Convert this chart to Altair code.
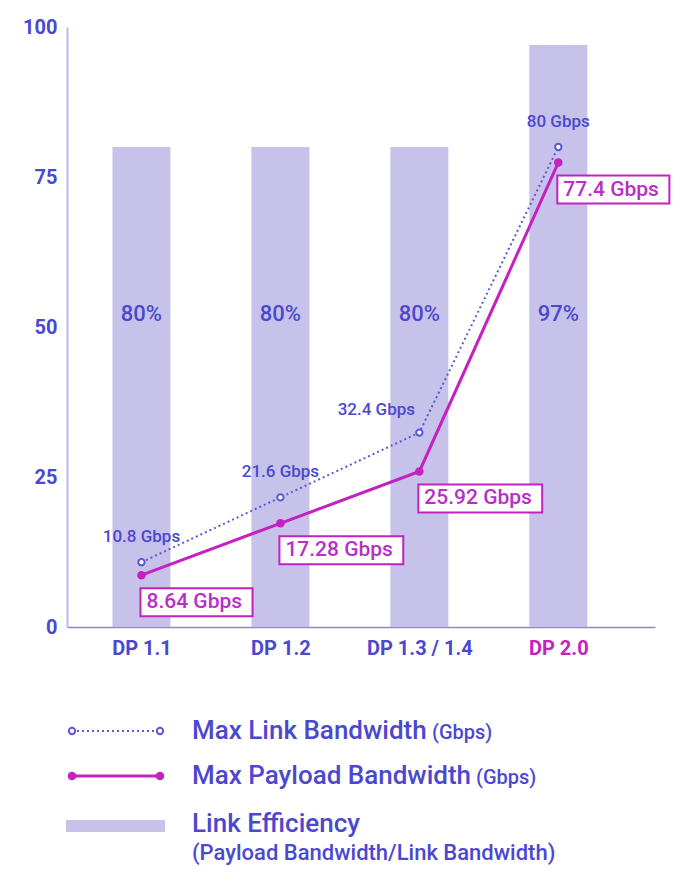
import altair as alt
import pandas as pd

# ---------------- data ----------------
versions = ["DP 1.1", "DP 1.2", "DP 1.3 / 1.4", "DP 2.0"]
link_bw = [10.8, 21.6, 32.4, 80.0]
payload_bw = [8.64, 17.28, 25.92, 77.4]
efficiency = [80, 80, 80, 97]
link_labels = ["10.8 Gbps", "21.6 Gbps", "32.4 Gbps", "80 Gbps"]
payload_labels = ["8.64 Gbps", "17.28 Gbps", "25.92 Gbps", "77.4 Gbps"]
eff_labels = ["80%", "80%", "80%", "97%"]
y_ticks = [0, 25, 50, 75, 100]
legend_names = ["Max Link Bandwidth", "Max Payload Bandwidth", "Link Efficiency"]
legend_units = ["(Gbps)", "(Gbps)", "(Payload Bandwidth/Link Bandwidth)"]

# ---------------- styles ----------------
FONT = "Roboto"
BLUE = "#4b48d0"
LINK_BLUE = "#5b58d8"
MAGENTA = "#c421c0"
BOX_TEXT = "#b72fc6"
LAVENDER = "#c7c2ea"
W, H = 588, 600
XDOM = [-0.5, 3.66]
PX = W / (XDOM[1] - XDOM[0])

df = pd.DataFrame({
    "pos": list(range(len(versions))),
    "version": versions,
    "link": link_bw,
    "payload": payload_bw,
    "eff": efficiency,
    "link_label": link_labels,
    "payload_label": payload_labels,
    "eff_label": eff_labels,
})

label_expr = "[" + ",".join("'%s'" % v for v in versions) + "][datum.value]"
last = len(versions) - 1

X = alt.X(
    "pos:Q",
    scale=alt.Scale(domain=XDOM, nice=False, zero=False),
    axis=alt.Axis(
        values=list(range(len(versions))), labelExpr=label_expr, title=None,
        ticks=False, grid=False, domainColor="#8a86e0", domainWidth=1.5,
        labelFont=FONT, labelFontSize=20, labelFontWeight="bold",
        labelColor=alt.ExprRef("datum.value == %d ? '%s' : '%s'" % (last, MAGENTA, BLUE)),
        labelPadding=11, labelFlush=False,
    ),
)


def Y(field):
    return alt.Y(
        field,
        scale=alt.Scale(domain=[0, 100], nice=False),
        axis=alt.Axis(
            values=y_ticks, title=None, ticks=False, grid=False,
            domainColor="#bcb8ec", domainWidth=2,
            labelFont=FONT, labelFontSize=20, labelFontWeight="bold",
            labelColor=BLUE, labelPadding=10,
        ),
    )


base = alt.Chart(df)

bars = base.mark_bar(size=58, color=LAVENDER).encode(x=X, y=Y("eff:Q"))

bar_text = base.mark_text(font=FONT, fontSize=22, fontWeight=500, color=BLUE,
                          baseline="middle").encode(
    x=X, y=alt.value(287), text="eff_label:N")

link_line = base.mark_line(color=LINK_BLUE, strokeWidth=2, strokeDash=[2, 3]).encode(
    x=X, y=Y("link:Q"))

pay_line = base.mark_line(color=MAGENTA, strokeWidth=3).encode(x=X, y=Y("payload:Q"))

link_pts = base.mark_point(shape="circle", filled=True, fill="white", stroke=LINK_BLUE,
                           strokeWidth=2, size=40, opacity=1).encode(x=X, y=Y("link:Q"))

pay_pts = base.mark_point(shape="circle", filled=True, color=MAGENTA, size=72,
                          opacity=1).encode(x=X, y=Y("payload:Q"))

boxes = base.transform_calculate(
    x_end="datum.pos + (12 * length(datum.payload_label) + 6) / %f" % PX
).mark_rect(fill="white", stroke=MAGENTA, strokeWidth=2,
            xOffset=-1, x2Offset=-1, yOffset=13, y2Offset=41).encode(
    x=X, x2="x_end:Q", y=Y("payload:Q"), y2="payload:Q")

box_text = base.mark_text(font=FONT, fontSize=21, fontWeight=500, color=BOX_TEXT,
                          align="left", baseline="middle", dx=5, dy=27).encode(
    x=X, y=Y("payload:Q"), text="payload_label:N")

link_text_a = base.transform_filter("datum.pos != 2").mark_text(
    font=FONT, fontSize=17, fontWeight=500, color=BLUE, baseline="middle", dy=-25).encode(
    x=X, y=Y("link:Q"), text="link_label:N")

link_text_b = base.transform_filter("datum.pos == 2").mark_text(
    font=FONT, fontSize=17, fontWeight=500, color=BLUE, baseline="middle", dx=-43, dy=-23).encode(
    x=X, y=Y("link:Q"), text="link_label:N")

# ---------------- hand-made legend ----------------
one = alt.Chart(alt.Data(values=[{"k": 1}]))
legend_layers = []
rows_y = [704, 749]
sym_x = (5, 93)
# row 1: dotted line with open circles
legend_layers.append(one.mark_rule(color=LINK_BLUE, strokeWidth=2, strokeDash=[2, 3]).encode(
    x=alt.value(sym_x[0]), x2=alt.value(sym_x[1]), y=alt.value(rows_y[0])))
for xv in sym_x:
    legend_layers.append(one.mark_point(shape="circle", filled=True, fill="white", stroke=LINK_BLUE,
                                        strokeWidth=2, size=40, opacity=1).encode(
        x=alt.value(xv), y=alt.value(rows_y[0])))
# row 2: solid magenta line with dots
legend_layers.append(one.mark_rule(color=MAGENTA, strokeWidth=3).encode(
    x=alt.value(sym_x[0]), x2=alt.value(sym_x[1]), y=alt.value(rows_y[1])))
for xv in sym_x:
    legend_layers.append(one.mark_point(shape="circle", filled=True, color=MAGENTA, size=72,
                                        opacity=1).encode(x=alt.value(xv), y=alt.value(rows_y[1])))
# row 3: lavender bar
legend_layers.append(one.mark_rect(color=LAVENDER).encode(
    x=alt.value(-1), x2=alt.value(98), y=alt.value(793), y2=alt.value(805)))

name_y = [704, 749, 797]
unit_pos = [(365, 706), (409, 751), (125, 826)]
unit_size = [20, 20, 22]
for i, name in enumerate(legend_names):
    legend_layers.append(one.mark_text(font=FONT, fontSize=26, fontWeight=500, color=BLUE,
                                       align="left", baseline="middle").encode(
        x=alt.value(125), y=alt.value(name_y[i]), text=alt.value(name)))
    legend_layers.append(one.mark_text(font=FONT, fontSize=unit_size[i], fontWeight=500, color=BLUE,
                                       align="left", baseline="middle").encode(
        x=alt.value(unit_pos[i][0]), y=alt.value(unit_pos[i][1]), text=alt.value(legend_units[i])))

chart = alt.layer(
    bars, bar_text, link_line, pay_line, link_pts, pay_pts, boxes, box_text,
    link_text_a, link_text_b, *legend_layers
).properties(
    width=W, height=H,
    autosize=alt.AutoSizeParams(type="none"),
    padding={"left": 59, "top": 19, "right": 30, "bottom": 240},
).configure(font=FONT).configure_view(stroke=None)

chart.save("out.html", embed_options={"renderer": "svg", "actions": False})
